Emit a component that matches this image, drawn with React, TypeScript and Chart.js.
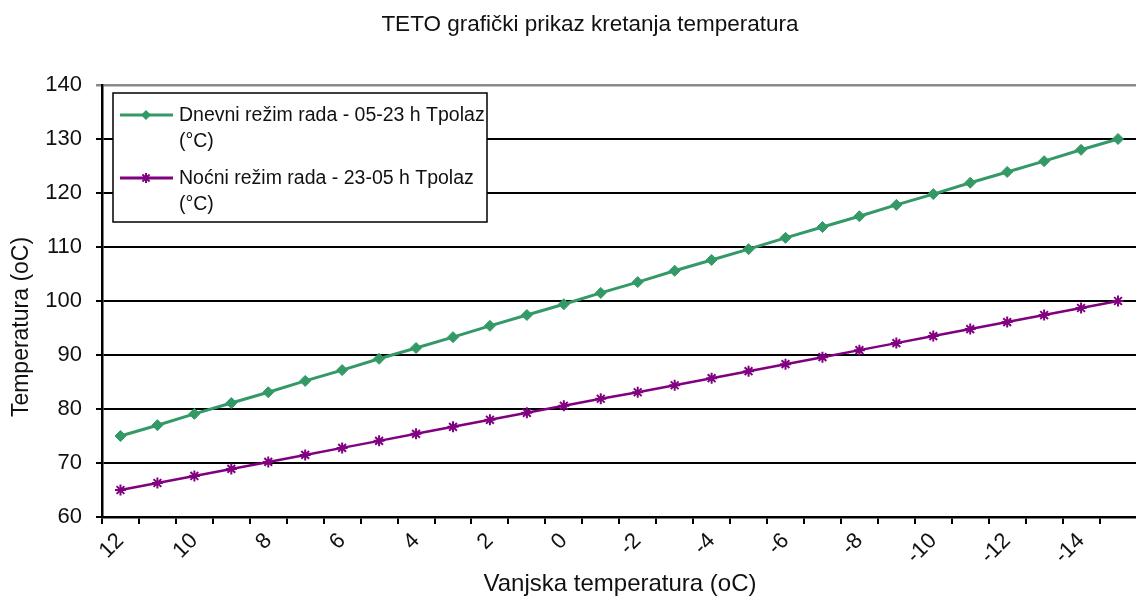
import React, { useEffect, useRef } from "react";
import { Chart, registerables } from "chart.js";

Chart.register(...registerables);

const categories: string[] = [
  "12", "11", "10", "9", "8", "7", "6", "5", "4", "3", "2", "1", "0", "-1",
  "-2", "-3", "-4", "-5", "-6", "-7", "-8", "-9", "-10", "-11", "-12", "-13", "-14", "-15",
];

const dnevni: number[] = [
  75, 77.0, 79.1, 81.1, 83.1, 85.2, 87.2, 89.3, 91.3, 93.3, 95.4, 97.4, 99.4, 101.5,
  103.5, 105.6, 107.6, 109.6, 111.7, 113.7, 115.7, 117.8, 119.8, 121.9, 123.9, 125.9, 128.0, 130,
];

const nocni: number[] = [
  65, 66.3, 67.6, 68.9, 70.2, 71.5, 72.8, 74.1, 75.4, 76.7, 78.0, 79.3, 80.6, 81.9,
  83.1, 84.4, 85.7, 87.0, 88.3, 89.6, 90.9, 92.2, 93.5, 94.8, 96.1, 97.4, 98.7, 100,
];

const seriesLabels: string[][] = [
  ["Dnevni režim rada - 05-23 h Tpolaz", "(°C)"],
  ["Noćni režim rada - 23-05 h Tpolaz", "(°C)"],
];

const chartTitle = "TETO grafički prikaz kretanja temperatura";
const xTitle = "Vanjska temperatura (oC)";
const yTitle = "Temperatura (oC)";

const GREEN = "#339966";
const PURPLE = "#800080";
const FONT = "'Liberation Sans', Arial, sans-serif";

function drawDiamond(ctx: CanvasRenderingContext2D, x: number, y: number, r: number, color: string) {
  ctx.save();
  ctx.fillStyle = color;
  ctx.beginPath();
  ctx.moveTo(x, y - r);
  ctx.lineTo(x + r, y);
  ctx.lineTo(x, y + r);
  ctx.lineTo(x - r, y);
  ctx.closePath();
  ctx.fill();
  ctx.restore();
}

function drawStar(ctx: CanvasRenderingContext2D, x: number, y: number, r: number, color: string) {
  ctx.save();
  ctx.strokeStyle = color;
  ctx.lineWidth = 2;
  ctx.beginPath();
  const d = r * Math.SQRT1_2;
  ctx.moveTo(x - d, y - d);
  ctx.lineTo(x + d, y + d);
  ctx.moveTo(x + d, y - d);
  ctx.lineTo(x - d, y + d);
  ctx.moveTo(x, y - r);
  ctx.lineTo(x, y + r);
  ctx.stroke();
  ctx.restore();
}

const decorPlugin = {
  id: "decor",
  afterDraw(chart: any) {
    const ctx: CanvasRenderingContext2D = chart.ctx;
    ctx.save();
    ctx.fillStyle = "#111";
    ctx.textBaseline = "middle";
    ctx.textAlign = "center";
    // title
    ctx.font = `22.5px ${FONT}`;
    ctx.fillText(chartTitle, 590, 25);
    // x title
    ctx.font = `24px ${FONT}`;
    ctx.fillText(xTitle, 620, 584);
    // y title
    ctx.save();
    ctx.translate(22, 327);
    ctx.rotate(-Math.PI / 2);
    ctx.font = `23px ${FONT}`;
    ctx.fillText(yTitle, 0, 0);
    ctx.restore();

    // legend
    const bx = 113, by = 93, bw = 374, bh = 129;
    ctx.fillStyle = "#fff";
    ctx.fillRect(bx, by, bw, bh);
    ctx.strokeStyle = "#000";
    ctx.lineWidth = 1.5;
    ctx.strokeRect(bx, by, bw, bh);
    const entries = [
      { color: GREEN, y: 115, marker: "diamond", lines: seriesLabels[0] },
      { color: PURPLE, y: 178, marker: "star", lines: seriesLabels[1] },
    ];
    ctx.font = `19.5px ${FONT}`;
    ctx.textAlign = "left";
    for (const e of entries) {
      ctx.strokeStyle = e.color;
      ctx.lineWidth = 3;
      ctx.beginPath();
      ctx.moveTo(120, e.y);
      ctx.lineTo(173, e.y);
      ctx.stroke();
      if (e.marker === "diamond") drawDiamond(ctx, 146, e.y, 5, e.color);
      else drawStar(ctx, 146, e.y, 5, e.color);
      ctx.fillStyle = "#111";
      e.lines.forEach((t, i) => ctx.fillText(t, 179, e.y + 1 + i * 26));
    }
    ctx.restore();
  },
};

export default function App() {
  const ref = useRef<HTMLCanvasElement | null>(null);
  useEffect(() => {
    if (!ref.current) return;
    const chart = new Chart(ref.current, {
      type: "line",
      data: {
        labels: categories,
        datasets: [
          {
            label: seriesLabels[0].join(" "),
            data: dnevni,
            borderColor: GREEN,
            backgroundColor: GREEN,
            borderWidth: 3,
            pointStyle: "rectRot",
            pointRadius: 5.5,
            pointBorderWidth: 1,
            tension: 0,
          },
          {
            label: seriesLabels[1].join(" "),
            data: nocni,
            borderColor: PURPLE,
            backgroundColor: PURPLE,
            borderWidth: 2.5,
            pointStyle: "star",
            pointRadius: 5.5,
            pointBorderWidth: 2,
            tension: 0,
          },
        ],
      },
      options: {
        animation: false,
        responsive: false,
        layout: { padding: { top: 85, left: 0, right: 0, bottom: 0 } },
        plugins: {
          legend: { display: false },
          title: { display: false },
          tooltip: { enabled: false },
        },
        scales: {
          x: {
            type: "category",
            offset: true,
            grid: {
              offset: true,
              drawOnChartArea: false,
              drawTicks: true,
              tickLength: 7,
              color: "#000",
              lineWidth: 2,
            },
            border: { display: true, color: "#000", width: 2.5 },
            ticks: {
              autoSkip: false,
              maxRotation: 45,
              minRotation: 45,
              padding: 4,
              color: "#111",
              font: { family: FONT, size: 22 },
              callback: (_v: any, i: number) => (i % 2 === 0 ? categories[i] : ""),
            },
            afterFit: (scale: any) => {
              scale.height = 84;
            },
          },
          y: {
            min: 60,
            max: 140,
            grid: {
              color: (c: any) => (c.tick && c.tick.value === 140 ? "#8a8a8a" : "#000"),
              lineWidth: (c: any) => (c.tick && c.tick.value === 140 ? 2.5 : 2),
              tickLength: 6,
              drawTicks: true,
            },
            border: { display: true, color: "#000", width: 2.5 },
            ticks: {
              stepSize: 10,
              padding: 14,
              color: "#111",
              font: { family: FONT, size: 22 },
            },
            afterFit: (scale: any) => {
              scale.width = 102;
            },
          },
        },
      },
      plugins: [decorPlugin],
    });
    return () => chart.destroy();
  }, []);

  return (
    <div
      style={{
        position: "absolute",
        left: 0,
        top: 0,
        width: 1136,
        height: 601,
        overflow: "hidden",
        background: "#fff",
      }}
    >
      <canvas ref={ref} width={1144} height={601} style={{ display: "block" }} />
    </div>
  );
}
